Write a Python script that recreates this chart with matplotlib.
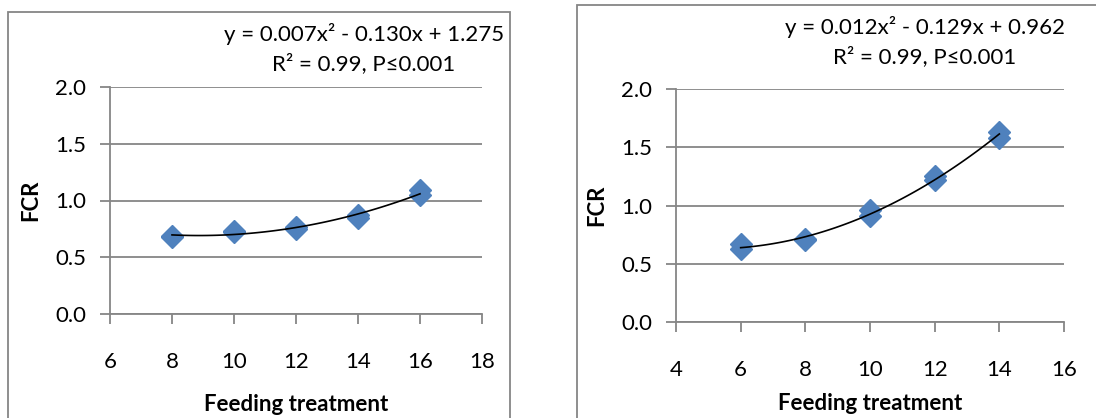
import numpy as np
import matplotlib
matplotlib.use('Agg')
import matplotlib.pyplot as plt
from matplotlib.patches import Rectangle

plt.rcParams['font.family'] = ['Lato', 'DejaVu Sans']

# Left panel: feeding treatment vs FCR (replicates overlap)
LEFT_X = [8, 8, 10, 10, 12, 12, 14, 14, 16, 16]
LEFT_Y = [0.68, 0.69, 0.72, 0.73, 0.75, 0.77, 0.85, 0.87, 1.05, 1.09]
LEFT_XTICKS = [6, 8, 10, 12, 14, 16, 18]
LEFT_EQ = ['y = 0.007x² - 0.130x + 1.275', 'R² = 0.99, P≤0.001']

# Right panel
RIGHT_X = [6, 6, 8, 8, 10, 10, 12, 12, 14, 14]
RIGHT_Y = [0.63, 0.67, 0.70, 0.71, 0.91, 0.96, 1.22, 1.25, 1.58, 1.63]
RIGHT_XTICKS = [4, 6, 8, 10, 12, 14, 16]
RIGHT_EQ = ['y = 0.012x² - 0.129x + 0.962', 'R² = 0.99, P≤0.001']

YTICKS = [0.0, 0.5, 1.0, 1.5, 2.0]

GRID = '#868686'
BLUE = '#4F81BD'
FS = 16


def panel(fig, rect, xs, ys, xticks, eq, eq_x, eq_y, xlabelpad):
    ax = fig.add_axes(rect)
    xs = np.array(xs, float)
    ys = np.array(ys, float)
    ax.plot(xs, ys, 'D', ms=11, color=BLUE, zorder=3, clip_on=False)
    # quadratic trend line, as in the spreadsheet chart
    coef = np.polyfit(xs, ys, 2)
    xx = np.linspace(xs.min(), xs.max(), 100)
    ax.plot(xx, np.polyval(coef, xx), color='black', lw=1.2, zorder=4)

    ax.set_xlim(xticks[0], xticks[-1])
    ax.set_ylim(0, 2)
    ax.set_xticks(xticks)
    ax.set_yticks(YTICKS)
    ax.set_yticklabels([f'{v:.1f}' for v in YTICKS])
    ax.grid(axis='y', color=GRID, lw=1.3)
    ax.set_axisbelow(True)
    for s in ['top', 'right']:
        ax.spines[s].set_visible(False)
    for s in ['left', 'bottom']:
        ax.spines[s].set_color(GRID)
        ax.spines[s].set_linewidth(1.3)
    ax.tick_params(axis='x', direction='out', length=7, width=1.3, color=GRID,
                   labelsize=FS, pad=20)
    ax.tick_params(axis='y', direction='out', length=7, width=1.3, color=GRID,
                   labelsize=FS, pad=10)
    ax.set_xlabel('Feeding treatment', fontsize=FS, fontweight='bold',
                  labelpad=xlabelpad)
    ax.set_ylabel('FCR', fontsize=FS, fontweight='bold', labelpad=10)
    for i, line in enumerate(eq):
        fig.text(eq_x, eq_y[i], line, ha='center', va='center', fontsize=FS)
    return ax


fig = plt.figure(figsize=(10.96, 4.18), dpi=100)

# chart frames
fig.patches.append(Rectangle((8 / 1096, -0.05), 502 / 1096, 1.05 - 12 / 418,
                             transform=fig.transFigure, fill=False,
                             edgecolor=GRID, lw=1.3))
fig.patches.append(Rectangle((577 / 1096, -0.05), 0.6, 1.05 - 5 / 418,
                             transform=fig.transFigure, fill=False,
                             edgecolor=GRID, lw=1.3))

panel(fig, [110 / 1096, 1 - 314 / 418, 372 / 1096, 227 / 418],
      LEFT_X, LEFT_Y, LEFT_XTICKS, LEFT_EQ, 364 / 1096,
      [1 - 34 / 418, 1 - 64 / 418], 16)
panel(fig, [676 / 1096, 1 - 322 / 418, 388 / 1096, 233 / 418],
      RIGHT_X, RIGHT_Y, RIGHT_XTICKS, RIGHT_EQ, 925 / 1096,
      [1 - 27 / 418, 1 - 57 / 418], 10)

fig.savefig('out.png', dpi=100)
